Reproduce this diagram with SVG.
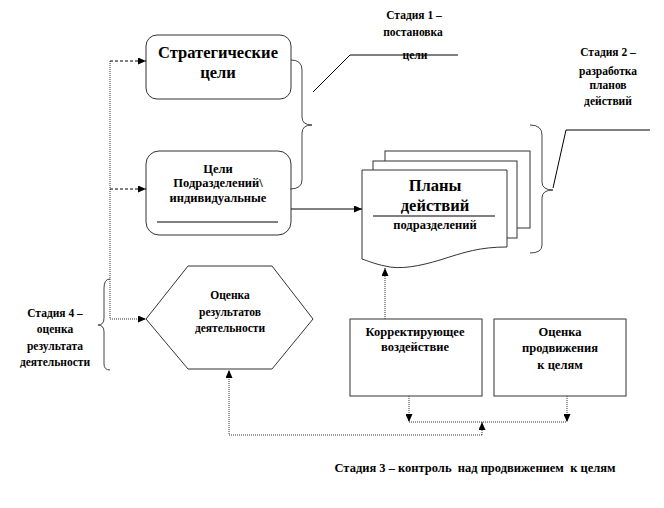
<svg xmlns="http://www.w3.org/2000/svg" width="664" height="508" viewBox="0 0 664 508" font-family="'Liberation Serif', 'Times New Roman', Times, serif">
<style>
text{font-weight:bold;fill:#000;text-anchor:middle}
.box{fill:#fff;stroke:#333;stroke-width:1}
.ln{fill:none;stroke:#000;stroke-width:1}
.br{fill:none;stroke:#444;stroke-width:1}
.dash{fill:none;stroke:#000;stroke-width:1;stroke-dasharray:3,2}
.dot{fill:none;stroke:#333;stroke-width:1;stroke-dasharray:1,1}
.s11{font-size:11.5px}
.s12{font-size:12.5px}
.s16{font-size:16.5px}
</style>
<defs>
<marker id="ah" markerWidth="8" markerHeight="7" refX="8" refY="3.5" orient="auto" markerUnits="userSpaceOnUse">
<path d="M0,0 L8,3.5 L0,7 z" fill="#000"/>
</marker>
</defs>
<rect width="664" height="508" fill="#fff"/>

<g id="strategic">
<rect class="box" x="146" y="35" width="145" height="64" rx="11"/>
<text class="s16" x="218" y="58">Стратегические</text>
<text class="s16" x="218" y="78">цели</text>
</g>

<g id="unit-goals">
<rect class="box" x="146" y="151" width="145" height="84" rx="13"/>
<text class="s12" x="218" y="173">Цели</text>
<text class="s12" x="218" y="187">Подразделений\</text>
<text class="s12" x="218" y="202">индивидуальные</text>
<line class="ln" x1="157" y1="222" x2="278" y2="222"/>
</g>

<g id="plans">
<rect class="box" x="385" y="151" width="145" height="77"/>
<rect class="box" x="373" y="161" width="144" height="77"/>
<path class="box" d="M362,170 H507 V247 C480,247 465,252 440,260 C420,266 400,270 385,266 C375,264 368,261 362,259 Z"/>
<text class="s16" x="435" y="191">Планы</text>
<text class="s16" x="435" y="211">действий</text>
<line class="ln" x1="373" y1="216" x2="495" y2="216"/>
<text class="s12" x="435" y="229">подразделений</text>
</g>

<g id="evaluation-results">
<polygon class="box" points="188,266 272,266 313,319 272,369 188,369 146,319"/>
<text class="s11" x="230" y="299">Оценка</text>
<text class="s11" x="230" y="316">результатов</text>
<text class="s11" x="230" y="332">деятельности</text>
</g>

<g id="correction">
<rect class="box" x="350" y="319" width="132" height="77"/>
<text class="s12" x="415" y="336">Корректирующее</text>
<text class="s12" x="415" y="351">воздействие</text>
</g>

<g id="progress">
<rect class="box" x="494" y="319" width="132" height="77"/>
<text class="s12" x="560" y="336">Оценка</text>
<text class="s12" x="560" y="352">продвижения</text>
<text class="s12" x="560" y="369">к целям</text>
</g>

<g id="stage-labels">
<text class="s11" x="414" y="19">Стадия 1 –</text>
<text class="s11" x="413" y="36">постановка</text>
<polyline class="ln" points="313,92 350,55 458,55"/>
<text class="s11" x="415" y="59">цели</text>
<text class="s11" x="608" y="56">Стадия 2 –</text>
<text class="s11" x="608" y="75">разработка</text>
<text class="s11" x="608" y="89">планов</text>
<text class="s11" x="608" y="105">действий</text>
<polyline class="ln" points="553,188 566,130 650,130"/>
<text class="s11" x="55" y="317">Стадия 4 –</text>
<text class="s11" x="55" y="333">оценка</text>
<text class="s11" x="55" y="350">результата</text>
<text class="s11" x="55" y="366">деятельности</text>
<text class="s12" x="475" y="472" xml:space="preserve">Стадия 3 – контроль  над продвижением  к целям</text>
</g>

<g id="brackets">
<path class="br" d="M291,60 Q302,60 302,70 L302,117 Q302,125 312,125 Q302,125 302,133 L302,180 Q302,189 290,189"/>
<path class="br" d="M530,125 Q542,125 542,135 L542,182 Q542,190 553,190 Q542,190 542,198 L542,245 Q542,253 530,253"/>
<path class="br" d="M110,279 Q104,279 104,288 L104,318 Q104,325 98,325 Q104,325 104,332 L104,364 Q104,370 110,370"/>
</g>

<g id="connectors">
<line class="dot" x1="110" y1="61" x2="110" y2="319"/>
<line class="dash" x1="110" y1="61" x2="146" y2="61" marker-end="url(#ah)"/>
<line class="dash" x1="110" y1="189" x2="146" y2="189" marker-end="url(#ah)"/>
<line class="dot" x1="110" y1="319" x2="146" y2="319" marker-end="url(#ah)"/>
<line class="ln" x1="291" y1="209" x2="362" y2="209" marker-end="url(#ah)"/>
<line class="dot" x1="385" y1="319" x2="385" y2="268" marker-end="url(#ah)"/>
<line class="dot" x1="409" y1="396" x2="409" y2="422" marker-end="url(#ah)"/>
<line class="dot" x1="567" y1="396" x2="567" y2="422" marker-end="url(#ah)"/>
<line class="dot" x1="409" y1="422" x2="567" y2="422"/>
<line class="dot" x1="482" y1="435" x2="482" y2="422" marker-end="url(#ah)"/>
<polyline class="dot" points="482,435 229,435 229,370" marker-end="url(#ah)"/>
</g>
</svg>
